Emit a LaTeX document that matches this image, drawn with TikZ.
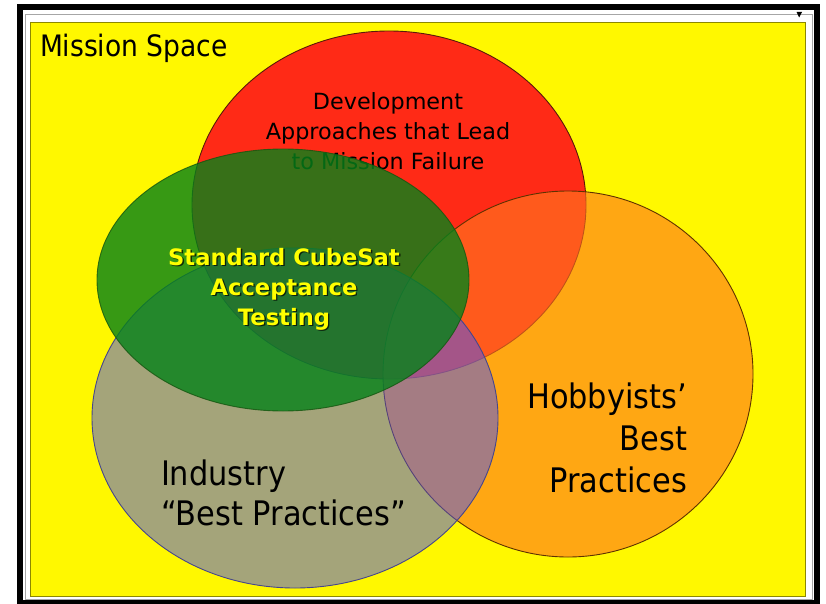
\documentclass[tikz,border=0pt]{standalone}
\usepackage{fontspec}
\setmainfont{DejaVu Sans}
\newfontfamily\condfont{DejaVu Sans}[FakeStretch=0.9]
\definecolor{bgyellow}{RGB}{255,248,0}
\definecolor{redfill}{RGB}{255,42,22}
\definecolor{orangefill}{RGB}{255,119,32}
\definecolor{bluefill}{RGB}{75,82,244}
\definecolor{greenfill}{RGB}{5,130,25}
\definecolor{txtyellow}{RGB}{255,255,0}
\tikzset{
  lbl/.style={inner sep=0pt, outer sep=0pt, text=black},
  bigcond/.style={lbl, font=\condfont\fontsize{33.8}{42}\selectfont},
  venn/.style={line width=0.9pt},
}
\begin{document}
\begin{tikzpicture}[x=1pt,y=-1pt]
\useasboundingbox (0,0) rectangle (826,604);
\fill[white] (0,0) rectangle (826,604);
% frame
\draw[line width=6pt] (20,7) rectangle (817,603);
\draw[black!35, line width=0.8pt] (25,14) rectangle (812,599);
\fill[black] (796.5,12) -- (802,12) -- (799.2,17.5) -- cycle;
\fill[bgyellow] (30.5,22.5) rectangle (805,596.5);
\draw[black!45!bgyellow, line width=0.8pt] (30.5,22.5) rectangle (805,596.5);
% red
\fill[redfill] (389,205) ellipse [x radius=197pt, y radius=174pt];
\draw[venn, draw={rgb,255:red,90;green,25;blue,10}] (389,205) ellipse [x radius=197pt, y radius=174pt];
\node[lbl, anchor=base, align=center, font=\fontsize{22.3}{30}\selectfont] (dev) at (388,170)
  {Development\\Approaches that Lead\\to Mission Failure};
% orange
\fill[orangefill, fill opacity=0.624] (568,374) ellipse [x radius=185pt, y radius=183pt];
\draw[venn, draw={rgb,255:red,95;green,50;blue,0}] (568,374) ellipse [x radius=185pt, y radius=183pt];
% olive (blue, half transparent)
\fill[bluefill, fill opacity=0.5] (295,418) ellipse [x radius=203pt, y radius=170pt];
\draw[venn, draw={rgb,255:red,70;green,70;blue,140}] (295,418) ellipse [x radius=203pt, y radius=170pt];
% green
\fill[greenfill, fill opacity=0.8] (283,280) ellipse [x radius=186pt, y radius=131pt];
\draw[venn, draw={rgb,255:red,20;green,85;blue,15}, draw opacity=0.8] (283,280) ellipse [x radius=186pt, y radius=131pt];
% labels
\node[lbl, anchor=base, align=center, text=black, opacity=0.7, font=\bfseries\fontsize{22.6}{30}\selectfont] (stdshadow) at (285.4,326.4)
  {Standard CubeSat\\Acceptance\\Testing};
\node[lbl, anchor=base, align=center, text=txtyellow, font=\bfseries\fontsize{22.6}{30}\selectfont] (std) at (284,325)
  {Standard CubeSat\\Acceptance\\Testing};
\node[bigcond, anchor=base west, align=left, font=\condfont\fontsize{33.8}{39.5}\selectfont] (ind) at (161,525)
  {Industry\\“Best Practices”};
\node[bigcond, anchor=base east, align=right] (hob) at (687,492)
  {Hobbyists’\\Best\\Practices};
\node[lbl, anchor=base west, font=\condfont\fontsize{29.5}{34}\selectfont] (mission) at (40,57) {Mission Space};
\end{tikzpicture}
\end{document}
